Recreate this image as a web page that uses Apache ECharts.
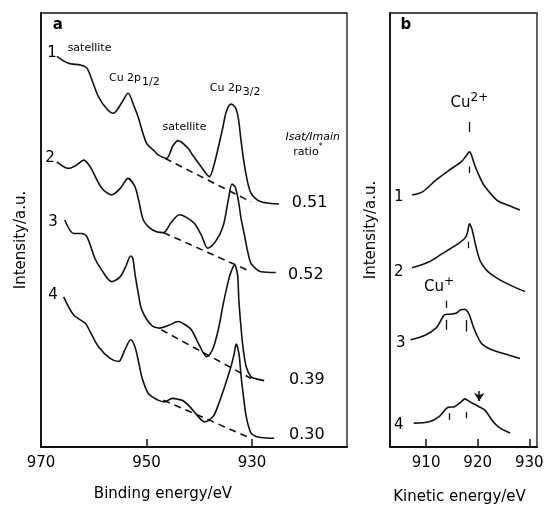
<!DOCTYPE html>
<html>
<head>
<meta charset="utf-8">
<title>Cu 2p XPS and Cu LMM Auger spectra</title>
<style>html,body{margin:0;padding:0;background:#fff}#chart{width:546px;height:508px}</style>
</head>
<body>
<div id="chart"></div>
<script src="https://cdn.jsdelivr.net/npm/echarts@6/dist/echarts.min.js"></script>
<script>
// panel a: Cu 2p spectra  [binding energy (eV), intensity (a.u.)]
const xps1 = [[967.0,90.0],[964.8,88.4],[962.5,88.0],[961.3,87.3],[960.2,84.1],[959.1,80.7],[957.5,77.9],[956.3,76.9],[954.7,79.3],[953.5,81.5],[952.3,78.3],[951.6,76.1],[950.0,70.0],[948.5,68.2],[947.8,67.3],[946.2,66.5],[945.0,69.4],[944.0,70.6],[942.1,68.8],[941.5,67.7],[939.6,64.5],[938.1,62.3],[937.2,65.0],[935.5,73.8],[934.9,77.2],[934.0,79.0],[933.2,78.3],[932.6,75.8],[932.1,70.7],[931.5,65.4],[930.8,60.8],[930.2,58.5],[929.2,57.1],[928.3,56.5],[926.4,56.1],[924.9,56.0]];
const xps2 = [[967.0,65.7],[964.8,64.2],[963.2,65.0],[961.9,66.1],[960.7,64.6],[958.5,59.7],[956.6,58.1],[954.9,59.7],[953.5,61.9],[952.2,60.0],[951.5,56.9],[950.6,52.3],[949.4,50.5],[948.1,49.6],[946.8,49.4],[945.3,51.8],[943.7,53.5],[942.3,52.8],[940.9,51.5],[939.6,48.8],[938.4,45.8],[937.0,47.2],[935.5,50.8],[934.5,56.9],[933.8,60.6],[933.2,59.9],[932.6,56.9],[932.1,52.8],[931.5,49.2],[930.8,44.9],[930.2,42.3],[929.2,41.0],[928.3,40.4],[925.5,40.2]];
const xps3 = [[965.5,52.3],[963.8,49.2],[962.3,49.2],[961.3,48.5],[959.8,43.5],[958.5,40.8],[956.6,38.1],[955.0,39.2],[953.9,41.7],[953.0,44.0],[952.6,43.5],[952.2,40.0],[951.5,35.0],[950.9,31.6],[949.1,28.1],[947.5,27.4],[945.7,28.1],[944.0,28.9],[942.6,28.1],[941.5,27.0],[940.0,23.5],[938.6,20.8],[937.5,22.4],[936.4,27.0],[935.5,32.7],[934.6,37.7],[934.0,40.3],[933.3,41.9],[933.0,41.2],[932.7,39.2],[932.5,33.9],[932.1,27.7],[931.7,22.8],[931.1,18.5],[930.2,16.2],[929.2,15.7],[927.7,15.3]];
const xps4 = [[965.7,34.6],[963.8,30.4],[961.6,28.5],[960.7,26.6],[959.1,23.1],[956.9,20.4],[955.3,19.7],[954.1,22.4],[953.0,24.7],[952.2,23.1],[951.5,19.6],[950.9,16.2],[949.7,12.4],[947.8,10.8],[946.6,10.4],[945.1,11.2],[944.0,11.0],[943.0,10.6],[941.8,9.3],[939.9,6.6],[939.0,5.8],[937.4,7.0],[936.4,9.7],[935.2,13.9],[934.0,18.5],[933.4,21.4],[933.0,23.7],[932.7,22.8],[932.4,20.8],[932.1,16.6],[931.7,12.4],[931.1,7.0],[930.2,3.2],[929.2,2.4],[928.3,2.2],[925.8,2.0]];
// satellite background lines (dashed)
const base1 = [[946.5,66.5],[930.2,56.5]];
const base2 = [[946.8,49.4],[930.2,40.4]];
const base3 = [[947.2,27.0],[930.2,15.8]];
const base4 = [[946.8,10.8],[930.2,2.0]];

// panel b: Cu LMM Auger  [kinetic energy (eV), intensity (a.u.)]
const aes1 = [[907.3,58.1],[909.3,58.8],[911.9,61.5],[914.5,63.8],[916.8,65.7],[917.6,66.8],[918.4,68.0],[919.4,65.0],[920.4,62.2],[921.4,60.0],[923.7,56.9],[925.9,55.7],[928.2,54.6]];
const aes2 = [[907.3,41.3],[910.6,42.7],[913.2,44.6],[915.8,46.5],[917.5,48.1],[918.0,49.3],[918.4,51.4],[918.8,50.5],[919.1,49.2],[919.6,46.5],[920.4,43.1],[921.4,41.2],[922.4,40.0],[924.3,38.5],[926.3,37.3],[929.2,35.8]];
const aes3 = [[907.0,24.7],[909.9,25.8],[911.9,27.4],[912.7,28.8],[913.5,30.4],[914.5,30.6],[915.8,30.8],[916.7,31.6],[917.5,31.7],[918.0,31.3],[918.4,30.4],[919.4,27.0],[920.7,23.9],[922.0,22.8],[923.7,22.0],[928.2,20.4]];
const aes4 = [[907.6,5.5],[910.6,5.8],[912.5,7.0],[914.2,9.1],[915.5,9.3],[916.8,10.4],[917.5,11.1],[918.0,10.8],[918.8,10.2],[920.1,9.4],[921.4,8.5],[923.0,5.8],[924.3,4.4],[926.3,3.2]];
// peak position markers [energy, from, to] and the arrow
const peakTicks = [[918.4,72.6,74.9],[918.3,63.1,64.6],[918.2,45.8,47.3],[913.9,32.0,33.7],[913.9,27.0,29.3],[917.8,26.6,29.3],[914.4,6.2,7.8],[917.8,6.6,8.1]];
const arrowMark = [920.3,12.9,10.6];

// axis ticks
const bindingTicks = [970,950,930];
const kineticTicks = [910,920,930];

// text
const sampleA = [[967.9,90.8,'1'],[968.3,66.6,'2'],[967.7,51.8,'3'],[967.7,35.0,'4']];
const peakNames = [[960.8,91.9,'satellite'],[952.3,85.0,'Cu 2p{s|1/2}'],[942.8,73.7,'satellite'],[933.2,82.7,'Cu 2p{s|3/2}']];
const ratioHead = [[918.5,71.4,'{i|Isat/Imain}'],[919.4,68.0,'ratio{p|*}']];
const ratios = [[919.1,56.2,'0.51'],[919.8,39.6,'0.52'],[919.6,15.4,'0.39'],[919.6,2.8,'0.30']];
const sampleB = [[904.7,57.6,'1'],[904.7,40.3,'2'],[905.1,24.0,'3'],[904.7,5.1,'4']];
const ionNames = [[918.4,79.3,'Cu{p|2+}'],[912.5,36.9,'Cu{p|+}']];
const panelA = [[966.8,97.2,'a']];
const panelB = [[906.1,97.2,'b']];

const FONT = 'DejaVu Sans, Liberation Sans, sans-serif';
const INK = '#111';
const TXT = '#000';
const chart = echarts.init(document.getElementById('chart'));

function curve(data, gi, dashed) {
    return {
        type: 'line', xAxisIndex: gi, yAxisIndex: gi, data: data,
        showSymbol: false, smooth: dashed ? false : 0.3, silent: true,
        lineStyle: { color: INK, width: 1.6, type: dashed ? [7, 5] : 'solid' }
    };
}

function texts(items, gi, size, extra) {
    const rs = { color: TXT, fontFamily: FONT, textBorderWidth: 0 };
    return {
        type: 'scatter', xAxisIndex: gi, yAxisIndex: gi, silent: true,
        symbolSize: 1, itemStyle: { color: '#fff', opacity: 0 },
        data: items.map(t => ({ value: [t[0], t[1]], name: t[2] })),
        label: Object.assign({
            show: true, position: 'inside', color: TXT, fontFamily: FONT, fontSize: size,
            textBorderWidth: 0, opacity: 1,
            formatter: p => p.name,
            rich: {
                s: Object.assign({ fontSize: size, padding: [9, 0, 0, 1] }, rs),
                p: Object.assign({ fontSize: size - 3, padding: [0, 0, 9, 0] }, rs),
                i: Object.assign({ fontSize: size, fontStyle: 'italic' }, rs)
            }
        }, extra || {})
    };
}

function xAx(gi, min, max, ticks, title, gap, pad) {
    return {
        gridIndex: gi, type: 'value', inverse: gi === 0, min: min, max: max,
        axisLine: { show: true, lineStyle: { color: INK, width: 1.8 } },
        axisTick: { show: true, inside: true, length: 8, customValues: ticks, lineStyle: { color: INK, width: 1.5 } },
        axisLabel: { customValues: ticks, color: TXT, fontFamily: FONT, fontSize: 15, margin: 9 },
        splitLine: { show: false },
        name: title, nameLocation: 'middle', nameGap: gap,
        nameTextStyle: { color: TXT, fontFamily: FONT, fontSize: 15, padding: pad }
    };
}

function yAx(gi, gap, pad) {
    return {
        gridIndex: gi, type: 'value', min: 0, max: 100,
        axisLine: { show: true, lineStyle: { color: INK, width: 1.8 } },
        axisTick: { show: false }, axisLabel: { show: false }, splitLine: { show: false },
        name: 'Intensity/a.u.', nameLocation: 'middle', nameRotate: 90, nameGap: gap,
        nameTextStyle: { color: TXT, fontFamily: FONT, fontSize: 15, padding: pad }
    };
}

const tickLines = peakTicks.map(t => [{ coord: [t[0], t[1]] }, { coord: [t[0], t[2]] }]);

const option = {
    animation: false,
    backgroundColor: '#fff',
    grid: [
        { left: 41, top: 13, width: 306, height: 434, show: true, borderColor: INK, borderWidth: 1.3, outerBoundsMode: 'none', containLabel: false },
        { left: 390, top: 13, width: 147, height: 434, show: true, borderColor: INK, borderWidth: 1.3, outerBoundsMode: 'none', containLabel: false }
    ],
    xAxis: [
        xAx(0, 912, 970, bindingTicks, 'Binding energy/eV', 40, [0, 62, 0, 0]),
        xAx(1, 903, 931.5, kineticTicks, 'Kinetic energy/eV', 43, [0, 8, 0, 0])
    ],
    yAxis: [yAx(0, 12, [0, 20, 0, 0]), yAx(1, 11, [0, 0, 0, 0])],
    series: [
        curve(xps1, 0), curve(xps2, 0), curve(xps3, 0), curve(xps4, 0),
        curve(base1, 0, true), curve(base2, 0, true), curve(base3, 0, true), curve(base4, 0, true),
        Object.assign(curve(aes1, 1), {
            markLine: {
                silent: true, symbol: 'none', label: { show: false },
                lineStyle: { color: INK, width: 1.3, type: 'solid' },
                data: tickLines
            }
        }),
        Object.assign(curve(aes2, 1), {
            markLine: {
                silent: true, symbol: ['none', 'arrow'], symbolSize: 8, label: { show: false },
                lineStyle: { color: INK, width: 1.5, type: 'solid' },
                data: [[{ coord: [arrowMark[0], arrowMark[1]] }, { coord: [arrowMark[0], arrowMark[2]] }]]
            }
        }),
        curve(aes3, 1), curve(aes4, 1),
        texts(panelA, 0, 15, { fontWeight: 'bold' }),
        texts(panelB, 1, 15, { fontWeight: 'bold' }),
        texts(sampleA, 0, 15),
        texts(sampleB, 1, 15),
        texts(peakNames, 0, 11),
        texts(ratioHead, 0, 11),
        texts(ratios, 0, 16),
        texts(ionNames, 1, 15)
    ]
};
chart.setOption(option);
</script>
</body>
</html>
